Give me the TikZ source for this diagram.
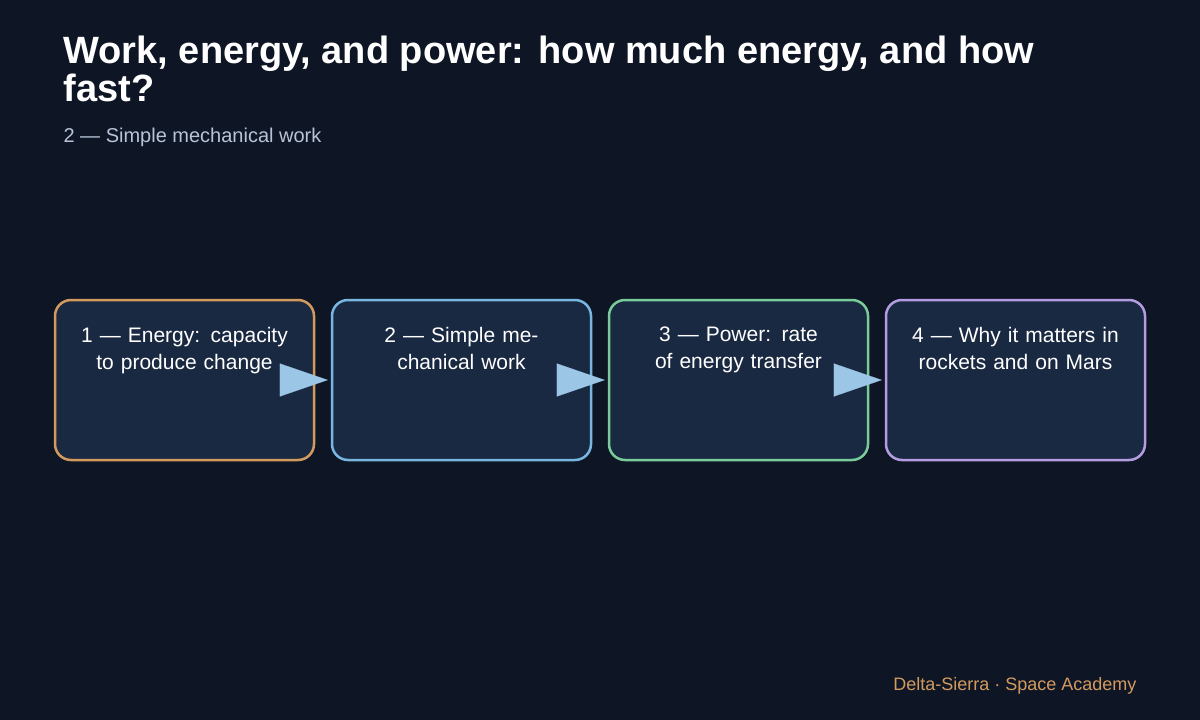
\documentclass[tikz,border=0pt]{standalone}
\usepackage{fontspec}
\setmainfont{Liberation Sans}
\usetikzlibrary{positioning,arrows.meta}
\definecolor{bgdark}{HTML}{0E1626}
\definecolor{boxfill}{HTML}{1A2942}
\definecolor{stepone}{HTML}{D39A5E}
\definecolor{steptwo}{HTML}{78B6E0}
\definecolor{stepthree}{HTML}{7ACB9A}
\definecolor{stepfour}{HTML}{B39DE0}
\definecolor{flowarrow}{HTML}{9CC6E6}
\definecolor{subgray}{HTML}{B7C3D6}
\tikzset{
    stepbox/.style={draw, line width=2.5pt, fill=boxfill, rounded corners=16pt,
                 minimum width=259pt, minimum height=160pt, inner sep=0pt},
    steptext/.style={text=white, align=center, text width=240pt,
                     font=\fontsize{21}{27}\selectfont},
    flow/.style={-{Triangle[length=48pt,width=33pt]}, draw=flowarrow, fill=flowarrow, line width=0.1pt}
}
\begin{document}
\begin{tikzpicture}[x=1pt, y=-1pt]
    \useasboundingbox[fill=bgdark] (0,0) rectangle (1200,720);
    \node[anchor=base west, text=white, font=\fontsize{38}{42}\selectfont\bfseries] (title) at (60,63)
        {Work, energy, and power: how much energy, and how};
    \node[anchor=base west, text=white, font=\fontsize{38}{42}\selectfont\bfseries] (title2) at (60,101) {fast?};
    \node[anchor=base west, text=subgray, font=\fontsize{20}{24}\selectfont] (sub) at (60,142)
        {2 — Simple mechanical work};
    % the four steps
    \node[stepbox, draw=stepone]   (s1) at (184.5,380) {};
    \node[stepbox, draw=steptwo]   (s2) at (461.5,380) {};
    \node[stepbox, draw=stepthree] (s3) at (738.5,380) {};
    \node[stepbox, draw=stepfour]  (s4) at (1015.5,380) {};
    \node[steptext, anchor=north] at ([yshift=-25pt]s1.north) {1 — Energy: capacity to produce change};
    \node[steptext, anchor=north] at ([yshift=-25pt]s2.north) {2 — Simple mechanical work};
    \node[steptext, anchor=north] at ([yshift=-25pt]s3.north) {3 — Power: rate of energy transfer};
    \node[steptext, anchor=north] at ([yshift=-25pt]s4.north) {4 — Why it matters in rockets and on Mars};
    \foreach \a/\b in {s1/s2,s2/s3,s3/s4} {
        \coordinate (from) at ([xshift=-35pt]\a.east);
        \coordinate (to) at ([xshift=-3pt]\b.west);
        \draw[flow] (from) -- (to);
    }
    \node[anchor=base east, text=stepone, font=\fontsize{18}{22}\selectfont] (foot) at (1140,690)
        {Delta-Sierra · Space Academy};
\end{tikzpicture}
\end{document}
